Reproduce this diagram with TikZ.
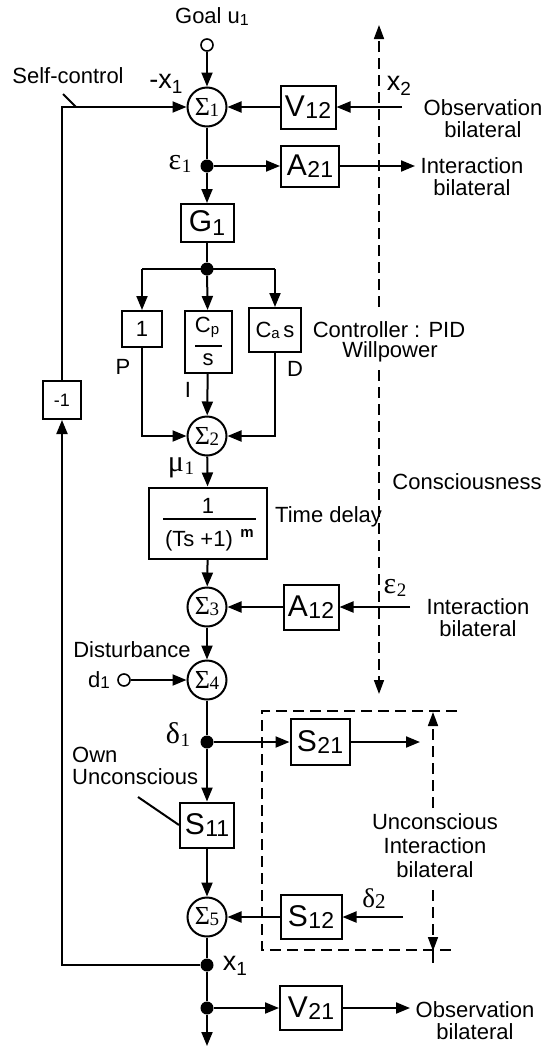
\documentclass[tikz,border=0pt]{standalone}
\usepackage{fontspec}
\setmainfont{Liberation Sans}
\newfontfamily\tmsfont{Liberation Serif}
\usetikzlibrary{arrows.meta,calc}
\newcommand\myfs[1]{\fontsize{#1}{#1}\selectfont}
\newcommand\boxlab[2]{#1\kern0.5pt\raisebox{-2pt}{\myfs{23}#2}}
\newcommand\sumlab[1]{{\tmsfont\myfs{26}Σ\kern-0.5pt\raisebox{-1pt}{\myfs{19}#1}}}
\newcommand\greeklab[2]{{\tmsfont\myfs{30}#1\kern0.5pt\raisebox{-3pt}{\myfs{19}#2}}}
\newcommand\xlab[1]{{\myfs{27}x}\raisebox{-5pt}{\myfs{19}#1}}
\begin{document}
\begin{tikzpicture}[x=1pt,y=-1pt,
 blk/.style={draw,line width=2pt,inner sep=0pt,minimum width=55pt,minimum height=43pt,font=\myfs{30}},
 sumnode/.style={draw,circle,line width=2pt,minimum size=39pt,inner sep=0pt},
 conn/.style={line width=2pt,-{Triangle[length=14pt,width=11pt]}},
 line/.style={line width=2pt},
 dot/.style={circle,fill,inner sep=0pt,minimum size=13pt},
 port/.style={circle,draw,line width=1.6pt,inner sep=0pt,minimum size=12pt},
 lbl/.style={font=\myfs{22},inner sep=0pt,align=center},
 dsh/.style={line width=1.7pt,dash pattern=on 11pt off 6pt},
 dsharr/.style={dsh,-{Triangle[length=14pt,width=10pt]}}]
\useasboundingbox (0,0) rectangle (547,1047);
\fill[white] (0,0) rectangle (547,1047);
% top
\node[lbl] (goaltxt) at (212,17) {Goal u\raisebox{-2pt}{\myfs{16}1}};
\node[port] (goal) at (207,45) {};
\node[sumnode] (s1) at (207,107) {\sumlab1};
\node[blk] (v12) at (308,107) {\boxlab{V}{12}};
\coordinate (x2in) at (402,107);
\node[lbl] (x2txt) at (399,86) {\xlab{2}};
\node[lbl] (obs1) at (483,119) {Observation\\bilateral};
\node[lbl] (sc) at (68,76) {Self-control};
\node[lbl] (mx1) at (166,84) {{\myfs{27}-}\xlab{1}};
\node[dot] (e1) at (207,166) {};
\node[lbl] (e1txt) at (180,164) {\greeklab{ε}{1}};
\node[blk,minimum width=58pt,minimum height=41pt] (a21) at (310,166) {\boxlab{A}{21}};
\coordinate (a21out) at (415,166);
\node[lbl] (int1) at (472,177) {Interaction\\bilateral};
\node[blk,minimum width=53pt,minimum height=38pt] (g1) at (207,223) {G\raisebox{-4pt}{\myfs{23}1}};
% PID
\node[dot] (br) at (207,269) {};
\coordinate (brl) at (142,269);
\coordinate (brr) at (275,269);
\node[blk,font=\myfs{22},minimum width=40pt,minimum height=36pt] (pb) at (142,329) {1};
\node[blk,minimum width=47pt,minimum height=62pt] (ib) at (208,342) {};
\node[lbl] (cp) at (207,327) {C\raisebox{-2pt}{\myfs{15}p}};
\draw[line] (195,346) -- (222,346);
\node[lbl] (ibs) at (208,360) {s};
\node[blk,font=\myfs{22},minimum width=52pt,minimum height=44pt] (db) at (275,330) {C\raisebox{-1pt}{\myfs{15}a}\,s};
\node[lbl] (ptxt) at (123,367) {P};
\node[lbl] (itxt) at (188,390) {I};
\node[lbl] (dtxt) at (295,369) {D};
\node[lbl] (ctrl) at (389,330) {Controller : PID};
\node[lbl] (will) at (390,352) {Willpower};
\node[sumnode] (s2) at (207,436) {\sumlab2};
\node[lbl] (mu) at (181,468) {\greeklab{μ}{1}};
% time delay
\node[blk,minimum width=118pt,minimum height=71pt] (td) at (208,523) {};
\node[lbl] (tdnum) at (208,506) {1};
\draw[line] (163,519) -- (256,519);
\node[lbl] (tdden) at (199,541) {(Ts +1)};
\node[lbl,font=\bfseries\myfs{15}] (tdm) at (247,533) {m};
\node[lbl,anchor=west] (tdtxt) at (275,517) {Time delay};
\node[lbl] (cons) at (467,482) {Consciousness};
\node[sumnode] (s3) at (207,607) {\sumlab3};
\node[blk,minimum height=45pt] (a12) at (311,607) {\boxlab{A}{12}};
\coordinate (e2in) at (410,607);
\node[lbl] (e2txt) at (395,588) {\greeklab{ε}{2}};
\node[lbl] (int2) at (478,618) {Interaction\\bilateral};
\node[lbl] (dist) at (132,650) {Disturbance};
\node[sumnode] (s4) at (207,680) {\sumlab4};
\node[port] (d1) at (124,680) {};
\node[lbl] (d1txt) at (99,680) {d\raisebox{-1pt}{\myfs{17}1}};
\node[dot] (dl) at (207,742) {};
\node[lbl] (dltxt) at (178,735) {\greeklab{δ}{1}};
\node[blk,minimum width=59pt,minimum height=46pt] (s21) at (320,742) {\boxlab{S}{21}};
\coordinate (s21out) at (420,742);
\node[lbl,align=left,anchor=west] (own) at (72,766) {Own\\Unconscious};
\node[blk,minimum width=54pt,minimum height=45pt] (s11) at (207,825) {\boxlab{S}{11}};
\node[lbl,font=\fontsize{22}{24}\selectfont] (uci) at (435,846) {Unconscious\\Interaction\\bilateral};
\node[sumnode] (s5) at (207,917) {\sumlab5};
\node[blk,minimum width=61pt,minimum height=44pt] (s12) at (311,917) {\boxlab{S}{12}};
\coordinate (d2in) at (403,917);
\node[lbl] (d2txt) at (374,899) {{\tmsfont\myfs{27}δ\raisebox{-1pt}{\myfs{21}2}}};
\node[dot] (x1) at (207,965) {};
\node[lbl] (x1txt) at (235,966) {\xlab{1}};
\node[dot] (j2) at (207,1008) {};
\node[blk,minimum width=62pt,minimum height=44pt] (v21) at (311,1008) {\boxlab{V}{21}};
\coordinate (v21out) at (410,1008);
\node[lbl] (obs2) at (475,1021) {Observation\\bilateral};
\coordinate (bot) at (207,1046);
\node[blk,font=\myfs{18},minimum width=38pt,minimum height=38pt] (m1) at (62,400) {-1};
\coordinate (scA) at (63,94);
\coordinate (scB) at (76,107);
\coordinate (ownA) at (138,797);
% connectors
\draw[conn] (goal) -- (s1);
\draw[conn] (x1) -| (m1.south);
\draw[conn] (m1.north) |- (s1.west);
\draw[line] (scA) -- (scB);
\draw[conn] (x2in) -- (v12);
\draw[conn] (v12) -- (s1);
\draw[line] (s1) -- (e1);
\draw[conn] (e1) -- (g1);
\draw[conn] (e1) -- (a21);
\draw[conn] (a21) -- (a21out);
\draw[line] (g1) -- (br);
\draw[line] (brl) -- (brr);
\draw[conn] (brl) -- (pb);
\draw[conn] (br) -- (ib);
\draw[conn] (brr) -- (db);
\draw[conn] (pb) |- (s2);
\draw[conn] (ib) -- (s2);
\draw[conn] (db) |- (s2);
\draw[conn] (s2) -- (td);
\draw[conn] (td) -- (s3);
\draw[conn] (e2in) -- (a12);
\draw[conn] (a12) -- (s3);
\draw[conn] (s3) -- (s4);
\draw[conn] (d1) -- (s4);
\draw[line] (s4) -- (dl);
\draw[conn] (dl) -- (s11);
\draw[conn] (dl) -- (s21);
\draw[conn] (s21) -- (s21out);
\draw[line] (ownA) -- (s11.west);
\draw[conn] (s11) -- (s5);
\draw[conn] (d2in) -- (s12);
\draw[conn] (s12) -- (s5);
\draw[line] (s5) -- (x1);
\draw[line] (x1) -- (j2);
\draw[conn] (j2) -- (bot);
\draw[conn] (j2) -- (v21);
\draw[conn] (v21) -- (v21out);
% dashed
\coordinate (cA) at (379,25);
\coordinate (cB) at (379,307);
\coordinate (cC) at (379,370);
\coordinate (cD) at (379,694);
\draw[dsharr] (cB) -- (cA);
\draw[dsharr] (cC) -- (cD);
\coordinate (r1) at (457,711);
\coordinate (r2) at (262,711);
\coordinate (r3) at (262,950);
\coordinate (r4) at (457,950);
\draw[dsh] (r1) -- (r2) -- (r3) -- (r4);
\coordinate (u0) at (433,712);
\coordinate (u1) at (433,808);
\coordinate (u2) at (433,890);
\coordinate (u3) at (433,951);
\coordinate (u4) at (433,963);
\draw[dsharr] (u1) -- (u0);
\draw[dsharr] (u2) -- (u3);
\draw[line width=1.7pt] (u3) -- (u4);
\end{tikzpicture}
\end{document}
